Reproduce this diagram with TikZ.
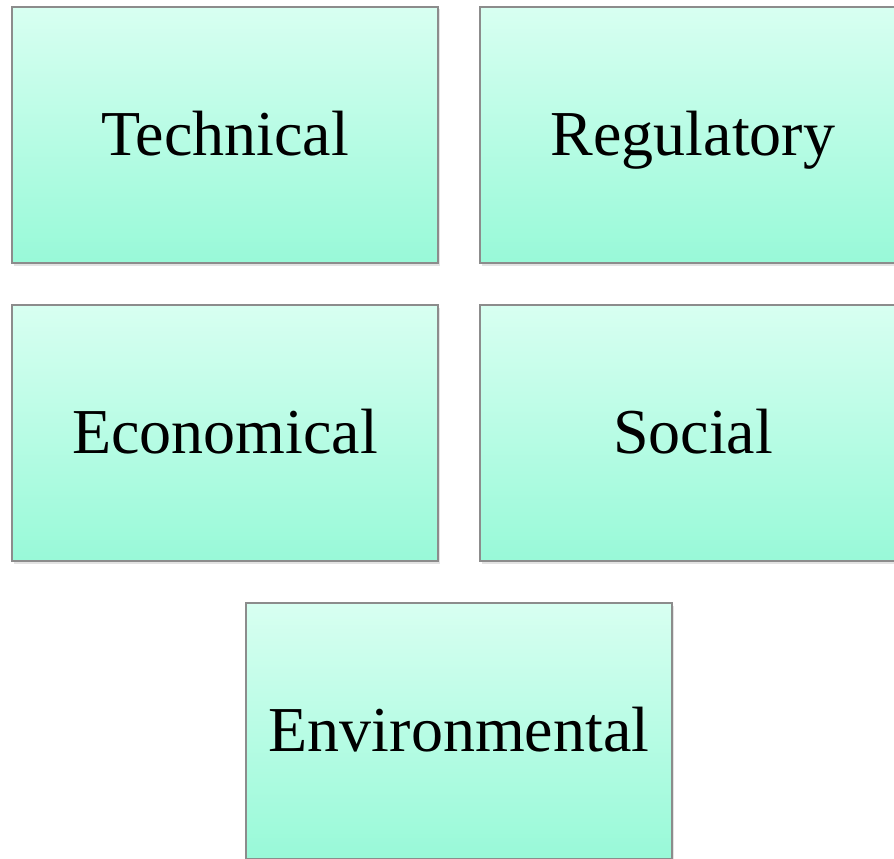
\documentclass[tikz,border=0pt]{standalone}
\usepackage{fontspec}
\setmainfont{Liberation Serif}
\usetikzlibrary{shadows}
\definecolor{boxtop}{RGB}{216,255,241}
\definecolor{boxbottom}{RGB}{152,249,216}
\definecolor{boxedge}{RGB}{140,140,140}
\tikzset{
  factor/.style={
    draw=boxedge, line width=1.3pt,
    top color=boxtop, bottom color=boxbottom,
    drop shadow={opacity=0.22, shadow xshift=1.5pt, shadow yshift=-2.5pt},
    minimum width=426pt, minimum height=256pt,
    inner sep=0pt, outer sep=0pt,
    text height=44pt, text depth=4pt,
    font=\fontsize{64}{72}\selectfont
  }
}
\begin{document}
\begin{tikzpicture}[x=1pt,y=-1pt]
  \useasboundingbox (0,0) rectangle (894,859);
  \node[factor] (tech) at (225,135) {Technical};
  \node[factor] (reg)  at (693,135) {Regulatory};
  \node[factor] (econ) at (225,433) {Economical};
  \node[factor] (soc)  at (693,433) {Social};
  \node[factor] (env)  at (459,731) {Environmental};
\end{tikzpicture}
\end{document}
